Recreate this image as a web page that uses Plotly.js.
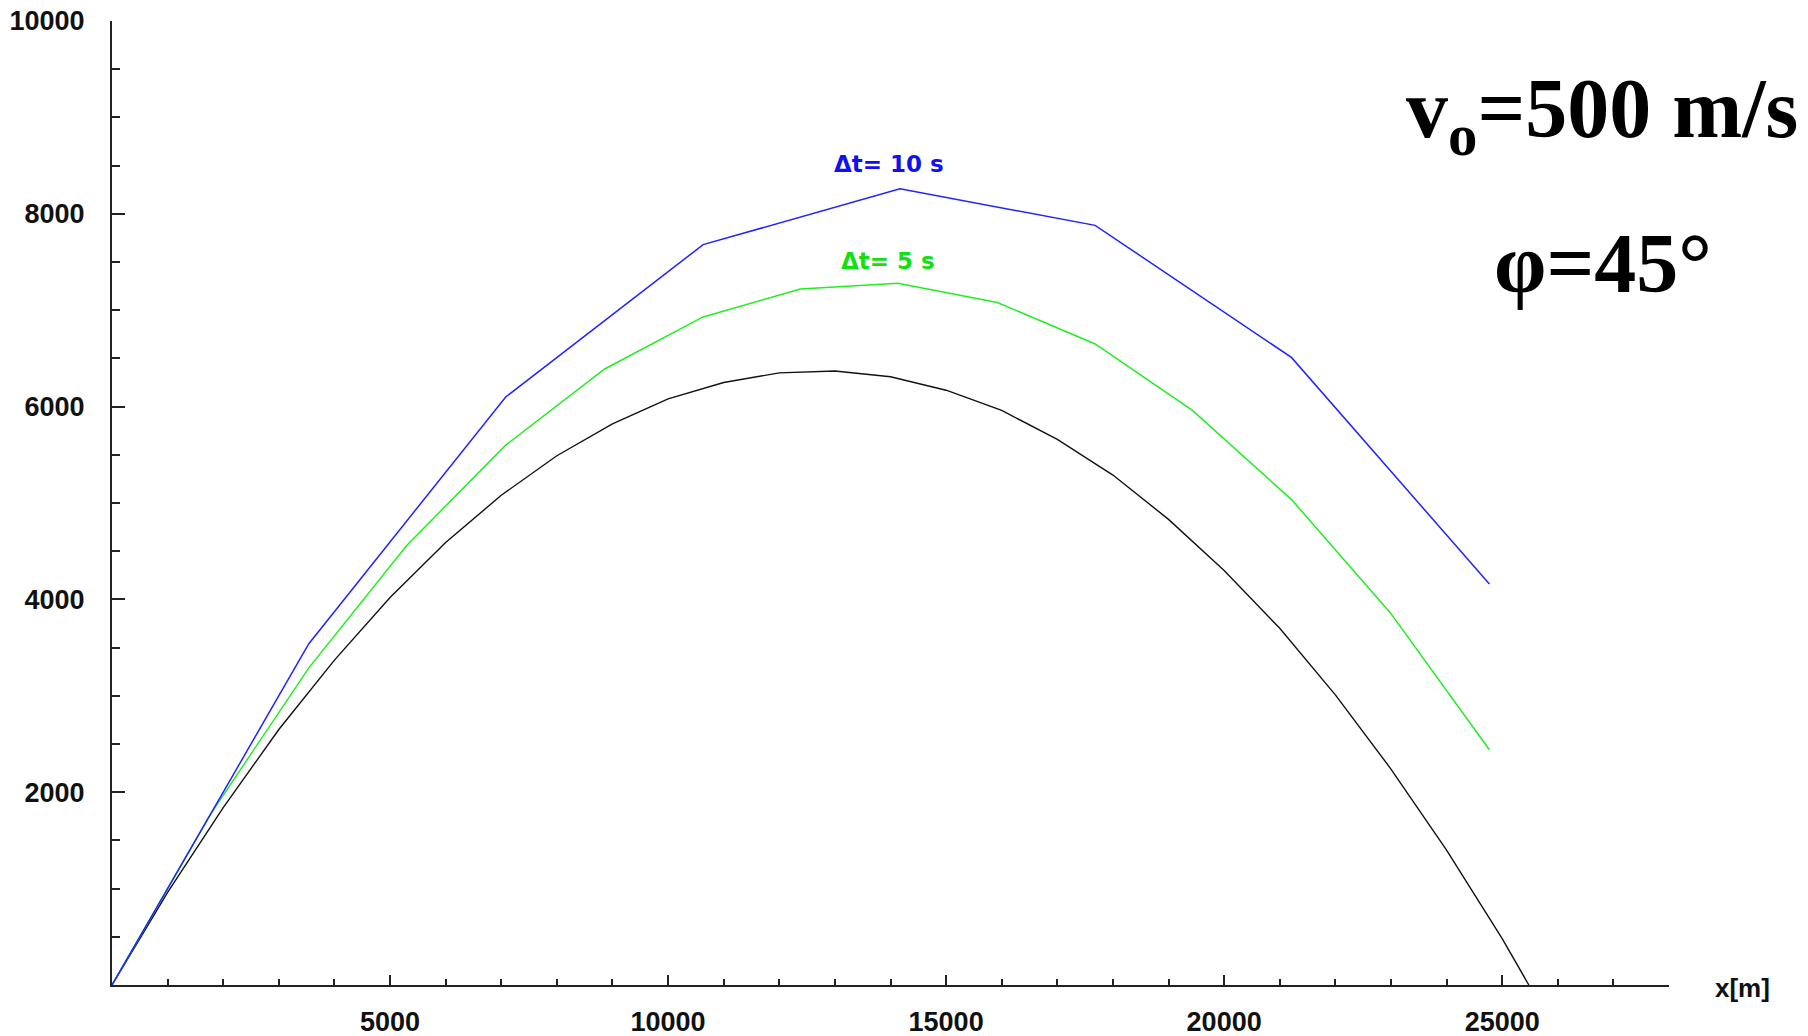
<!DOCTYPE html>
<html>
<head>
<meta charset="utf-8">
<script src="https://cdn.plot.ly/plotly-3.0.1.min.js"></script>
<style>
  html, body { margin: 0; padding: 0; background: #ffffff; }
  #chart { width: 1808px; height: 1036px; }
</style>
</head>
<body>
<div id="chart"></div>
<script>
// Δt = 10 s (blue)
const blueX = [0, 3540, 7080, 10630, 14170, 17680, 21210, 24770];
const blueY = [0, 3540, 6100, 7680, 8260, 7880, 6510, 4160];

// Δt = 5 s (green)
const greenX = [0, 1770, 3540, 5300, 7080, 8860, 10630, 12380, 14130, 15920, 17680, 19430, 21220, 22990, 24770];
const greenY = [0, 1770, 3290, 4560, 5600, 6390, 6930, 7220, 7280, 7080, 6650, 5960, 5030, 3860, 2440];

// exact trajectory (black)
const blackX = [0, 1000, 2000, 3000, 4000, 5000, 6000, 7000, 8000, 9000, 10000, 11000, 12000, 13000,
                14000, 15000, 16000, 17000, 18000, 19000, 20000, 21000, 22000, 23000, 24000, 25000, 25480];
const blackY = [0, 960, 1840, 2650, 3370, 4020, 4590, 5080, 5490, 5820, 6080, 6250, 6350, 6370,
                6310, 6170, 5960, 5660, 5290, 4830, 4300, 3700, 3010, 2240, 1400, 480, 0];

// axis ticks
const xTickVals = [5000, 10000, 15000, 20000, 25000];
const xTickText = ["5000", "10000", "15000", "20000", "25000"];
const yTickVals = [2000, 4000, 6000, 8000, 10000];
const yTickText = ["2000", "4000", "6000", "8000", "10000"];

// labels
const labelBlue = "Δt= 10 s";
const labelGreen = "Δt= 5 s";
const labelV0 = "v<sub>o</sub>=500 m/s";
const labelPhi = "φ=45°";
const labelX = "x[m]";

const axisColor = "#222222";

const traces = [
  { x: blackX, y: blackY, mode: "lines", line: { color: "#111111", width: 1.4 }, hoverinfo: "skip" },
  { x: greenX, y: greenY, mode: "lines", line: { color: "#22ee22", width: 1.5 }, hoverinfo: "skip" },
  { x: blueX,  y: blueY,  mode: "lines", line: { color: "#2222ff", width: 1.5 }, hoverinfo: "skip" }
];

const layout = {
  width: 1808, height: 1036,
  margin: { l: 112, r: 139, t: 21, b: 51 },
  paper_bgcolor: "#ffffff",
  plot_bgcolor: "#ffffff",
  showlegend: false,
  hovermode: false,
  xaxis: {
    range: [0, 28000],
    showgrid: false, zeroline: false,
    showline: true, linecolor: axisColor, linewidth: 2,
    ticks: "inside", ticklen: 10, tickwidth: 2, tickcolor: axisColor,
    tickmode: "array", tickvals: xTickVals, ticktext: xTickText,
    tickfont: { family: "Liberation Sans Narrow, Arial Narrow, Liberation Sans, Arial", size: 27, weight: 700, color: "#111" },
    ticklabelstandoff: 12,
    minor: { tickmode: "linear", tick0: 0, dtick: 1000, ticks: "inside", ticklen: 6, tickwidth: 2, tickcolor: axisColor, showgrid: false }
  },
  yaxis: {
    range: [0, 10000],
    showgrid: false, zeroline: false,
    showline: true, linecolor: axisColor, linewidth: 2,
    ticks: "inside", ticklen: 13, tickwidth: 2, tickcolor: axisColor,
    tickmode: "array", tickvals: yTickVals, ticktext: yTickText,
    tickfont: { family: "Liberation Sans, Arial", size: 27, weight: 700, color: "#111" },
    ticklabelstandoff: 20,
    minor: { tickmode: "linear", tick0: 0, dtick: 500, ticks: "inside", ticklen: 8, tickwidth: 2, tickcolor: axisColor, showgrid: false }
  },
  annotations: [
    { text: labelBlue, xref: "paper", yref: "paper", x: 0.499, y: 0.8517, xanchor: "center", yanchor: "middle",
      showarrow: false, font: { family: "DejaVu Sans", size: 23, weight: 700, color: "#1010f0" } },
    { text: labelGreen, xref: "paper", yref: "paper", x: 0.4984, y: 0.751, xanchor: "center", yanchor: "middle",
      showarrow: false, font: { family: "DejaVu Sans", size: 23, weight: 700, color: "#11e011" } },
    { text: labelV0, xref: "paper", yref: "paper", x: 0.9568, y: 0.9025, xanchor: "center", yanchor: "middle",
      showarrow: false, font: { family: "Liberation Serif, Times New Roman", size: 84, weight: 700, color: "#000" } },
    { text: labelPhi, xref: "paper", yref: "paper", x: 0.9575, y: 0.7484, xanchor: "center", yanchor: "middle",
      showarrow: false, font: { family: "Liberation Serif, Times New Roman", size: 84, weight: 700, color: "#000" } },
    { text: labelX, xref: "paper", yref: "paper", x: 1.0475, y: -0.0031, xanchor: "center", yanchor: "middle",
      showarrow: false, font: { family: "Liberation Sans Narrow, Arial Narrow, Liberation Sans, Arial", size: 26, weight: 700, color: "#111" } }
  ]
};

Plotly.newPlot("chart", traces, layout, { displayModeBar: false, staticPlot: true });
</script>
</body>
</html>
